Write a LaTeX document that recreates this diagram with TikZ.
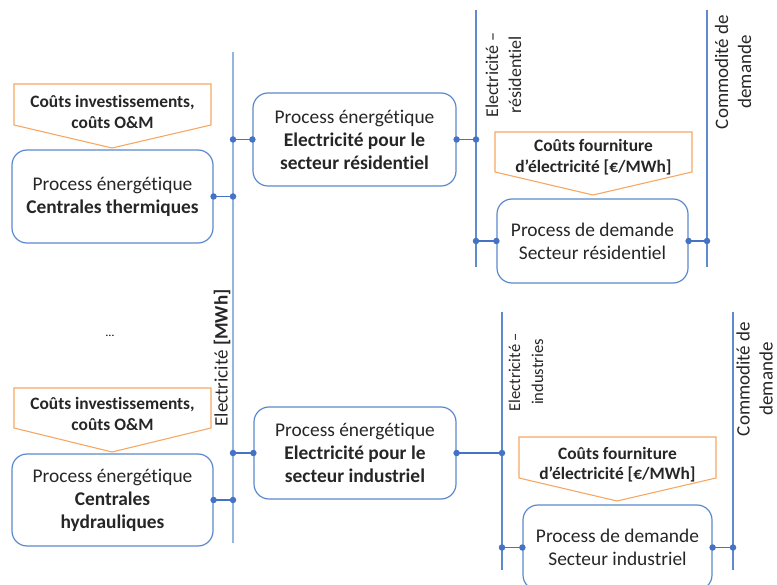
\documentclass[tikz,border=0pt]{standalone}
\usepackage{fontspec}
\setmainfont[Ligatures=NoCommon]{Carlito}
\definecolor{boxblue}{RGB}{91,137,205}
\definecolor{costorange}{RGB}{246,168,98}
\definecolor{busblue}{RGB}{95,138,205}
\definecolor{mainblue}{RGB}{150,180,224}
\definecolor{linkblue}{RGB}{68,114,196}
\begin{document}
\begin{tikzpicture}[x=1pt,y=-1pt,
  box/.style={draw=boxblue, line width=1.2pt, rounded corners=15pt, align=center, font=\fontsize{19.4}{23}\selectfont, inner sep=0pt, text=black!85},
  cost/.style={draw=costorange, line width=1.1pt},
  costtxt/.style={font=\bfseries\fontsize{17.4}{20.5}\selectfont, align=center, inner sep=0pt, text=black!85},
  bus/.style={draw=busblue, line width=1.4pt},
  mainbus/.style={draw=mainblue, line width=2.6pt},
  link/.style={draw=linkblue, line width=1.3pt},
  dot/.style={circle, fill=linkblue, inner sep=0pt, minimum size=6.5pt},
  vlabel/.style={rotate=90, align=center, inner sep=0pt, font=\fontsize{19}{23}\selectfont, text=black!85}]
\useasboundingbox (0,0) rectangle (777,585);
\clip (0,0) rectangle (777,585);

% bus coordinates
\coordinate (mbT) at (233,52);  \coordinate (mbB) at (233,543);
\coordinate (rbT) at (476,10);  \coordinate (rbB) at (476,267);
\coordinate (c1T) at (707,10);  \coordinate (c1B) at (707,267);
\coordinate (ibT) at (502,312); \coordinate (ibB) at (502,570);
\coordinate (c2T) at (733,312); \coordinate (c2B) at (733,570);

\draw[mainbus] (mbT) -- (mbB);
\draw[bus] (rbT) -- (rbB);
\draw[bus] (c1T) -- (c1B);
\draw[bus] (ibT) -- (ibB);
\draw[bus] (c2T) -- (c2B);

% bus labels
\node[vlabel] (lmain) at (222,358) {Electricité \textbf{[MWh]}};
\node[vlabel, font=\fontsize{18}{23}\selectfont] (lres) at (503.5,75) {Electricité –\\résidentiel};
\node[vlabel] (lc1) at (733,72) {Commodité de\\demande};
\node[vlabel, font=\fontsize{16.5}{23}\selectfont] (lind) at (526,372) {Electricité –\\industries};
\node[vlabel] (lc2) at (754.5,379) {Commodité de\\demande};

% cost pentagons
\draw[cost] (14,84) -- (211,84) -- (211,125) -- (112,148) -- (14,125) -- cycle;
\node[costtxt] (k1) at (112.5,112) {Coûts investissements,\\coûts O\&M};
\draw[cost] (495,132) -- (692,132) -- (692,172) -- (593,195) -- (495,172) -- cycle;
\node[costtxt] (k2) at (593.5,157) {Coûts fourniture\\d’électricité [€/MWh]};
\draw[cost] (14,388) -- (211,388) -- (211,428) -- (112,452) -- (14,428) -- cycle;
\node[costtxt] (k3) at (112.5,414) {Coûts investissements,\\coûts O\&M};
\draw[cost] (519,437) -- (716,437) -- (716,478) -- (617,501) -- (519,478) -- cycle;
\node[costtxt] (k4) at (617.5,464.5) {Coûts fourniture\\d’électricité [€/MWh]};

% boxes
\node[box, minimum width=201pt, minimum height=93pt] (b1) at (112.5,196.5) {Process énergétique\\\textbf{Centrales thermiques}};
\node[box, minimum width=203pt, minimum height=93pt] (b2) at (354.5,139.5) {Process énergétique\\\textbf{Electricité pour le}\\\textbf{secteur résidentiel}};
\node[box, minimum width=201pt, minimum height=92pt] (b3) at (112.5,500) {Process énergétique\\\textbf{Centrales}\\\textbf{hydrauliques}};
\node[box, minimum width=202pt, minimum height=92pt] (b4) at (355,453) {Process énergétique\\\textbf{Electricité pour le}\\\textbf{secteur industriel}};
\node[box, minimum width=191pt, minimum height=84pt] (d1) at (592.5,241) {Process de demande\\Secteur résidentiel};
\node[box, minimum width=189pt, minimum height=85pt] (d2) at (617.5,547.5) {Process de demande\\Secteur industriel};

\node (dots) at (110,336) {\fontsize{12}{14}\selectfont …};

% connectors
\draw[link] (b1.east) -- (b1.east -| mbT) node[dot] (p1) {};
\node[dot] (p1a) at (b1.east) {};
\draw[link] (b2.west) -- (b2.west -| mbT) node[dot] (p2) {};
\node[dot] (p2a) at (b2.west) {};
\draw[link] (b2.east) -- (b2.east -| rbT) node[dot] (p3) {};
\node[dot] (p3a) at (b2.east) {};
\draw[link] (d1.west) -- (d1.west -| rbT) node[dot] (p4) {};
\node[dot] (p4a) at (d1.west) {};
\draw[link] (d1.east) -- (d1.east -| c1T) node[dot] (p5) {};
\node[dot] (p5a) at (d1.east) {};
\draw[link] (b3.east) -- (b3.east -| mbT) node[dot] (p6) {};
\node[dot] (p6a) at (b3.east) {};
\draw[link] (b4.west) -- (b4.west -| mbT) node[dot] (p7) {};
\node[dot] (p7a) at (b4.west) {};
\draw[link] (b4.east) -- (b4.east -| ibT) node[dot] (p8) {};
\node[dot] (p8a) at (b4.east) {};
\draw[link] (d2.west) -- (d2.west -| ibT) node[dot] (p9) {};
\node[dot] (p9a) at (d2.west) {};
\draw[link] (d2.east) -- (d2.east -| c2T) node[dot] (p10) {};
\node[dot] (p10a) at (d2.east) {};
\end{tikzpicture}
\end{document}
